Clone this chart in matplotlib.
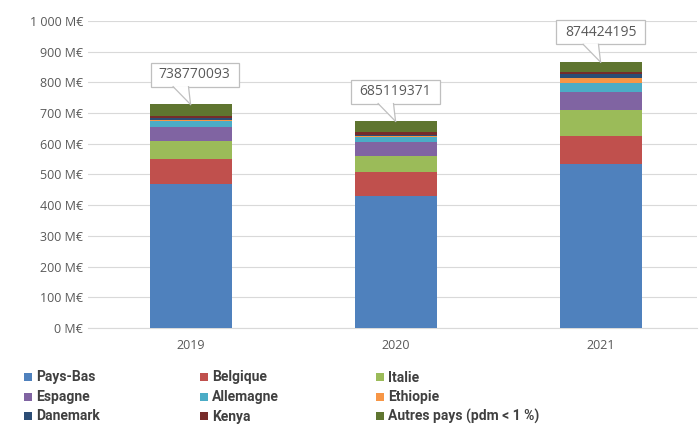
import matplotlib.pyplot as plt
from matplotlib.patches import Rectangle, Polygon

years = ["2019", "2020", "2021"]
countries = ["Pays-Bas", "Belgique", "Italie", "Espagne", "Allemagne",
             "Ethiopie", "Danemark", "Kenya", "Autres pays (pdm < 1 %)"]
values = {
    "Pays-Bas": [468, 431, 533],
    "Belgique": [81, 78, 93],
    "Italie": [61, 51, 83],
    "Espagne": [46, 46, 61],
    "Allemagne": [19, 17, 28],
    "Ethiopie": [2, 2, 17],
    "Danemark": [6, 5, 12],
    "Kenya": [7, 7, 8],
    "Autres pays (pdm < 1 %)": [38, 36, 31],
}
totals = ["738770093", "685119371", "874424195"]
colors = ["#4F81BD", "#C0504D", "#9BBB59", "#8064A2", "#4BACC6",
          "#F79646", "#2C4D75", "#772C2A", "#5F7530"]

plt.rcParams['font.family'] = ['Open Sans', 'DejaVu Sans']
fig = plt.figure(figsize=(6.99, 4.24), dpi=100)
ax = fig.add_axes([0.126, 0.2264, 0.871, 0.7241])

x = list(range(len(years)))
bottom = [0, 0, 0]
for c, col in zip(countries, colors):
    ax.bar(x, values[c], 0.4, bottom=bottom, color=col, zorder=3)
    bottom = [b + v for b, v in zip(bottom, values[c])]

ax.set_xlim(-0.5, 2.47)
ax.set_ylim(0, 1000)
ax.set_yticks(range(0, 1001, 100))
ax.set_yticklabels([("1 000" if v == 1000 else str(v)) + " M€" for v in range(0, 1001, 100)])
ax.set_xticks(x)
ax.set_xticklabels(years)
ax.tick_params(axis='both', length=0, labelsize=9, colors="#595959")
ax.tick_params(axis='x', pad=8)
ax.grid(axis='y', color="#D9D9D9", lw=0.8, zorder=0)
for s in ["top", "right", "left"]:
    ax.spines[s].set_visible(False)
ax.spines["bottom"].set_color("#D9D9D9")

# callouts
for i, t in enumerate(totals):
    top = bottom[i]
    dx = 0.02 if i == 0 else 0.0
    yb = top + 58
    h = 78
    w = 0.43
    ax.add_patch(Rectangle((i + dx - w / 2, yb), w, h, facecolor="white",
                           edgecolor="#BFBFBF", lw=0.9, zorder=5, clip_on=False))
    ax.add_patch(Polygon([(i - 0.085, yb + 1.5), (i - 0.01, yb + 1.5), (i, top)],
                         closed=True, facecolor="white", edgecolor="none", zorder=6))
    ax.plot([i - 0.085, i], [yb, top], color="#BFBFBF", lw=0.9, zorder=7)
    ax.plot([i - 0.01, i], [yb, top], color="#BFBFBF", lw=0.9, zorder=7)
    ax.text(i + dx, yb + h / 2, t, ha="center", va="center", fontsize=10,
            color="#595959", zorder=8)

# legend
colx = [28, 204, 380]
rowy = [377, 397, 416]
for k, (c, col) in enumerate(zip(countries, colors)):
    r, cc = divmod(k, 3)
    px, py = colx[cc], rowy[r]
    fig.patches.append(Rectangle((px / 699 - 4 / 699, 1 - (py + 4) / 424), 8 / 699, 8 / 424,
                                 transform=fig.transFigure, facecolor=col, edgecolor="none"))
    fig.text((px + 8) / 699, 1 - (py + 4.5) / 424, c, ha="left", va="baseline",
             fontsize=10, fontweight="bold", color="#404040",
             family=['Liberation Sans Narrow', 'Roboto', 'DejaVu Sans'])

fig.savefig("out.png", dpi=100)
